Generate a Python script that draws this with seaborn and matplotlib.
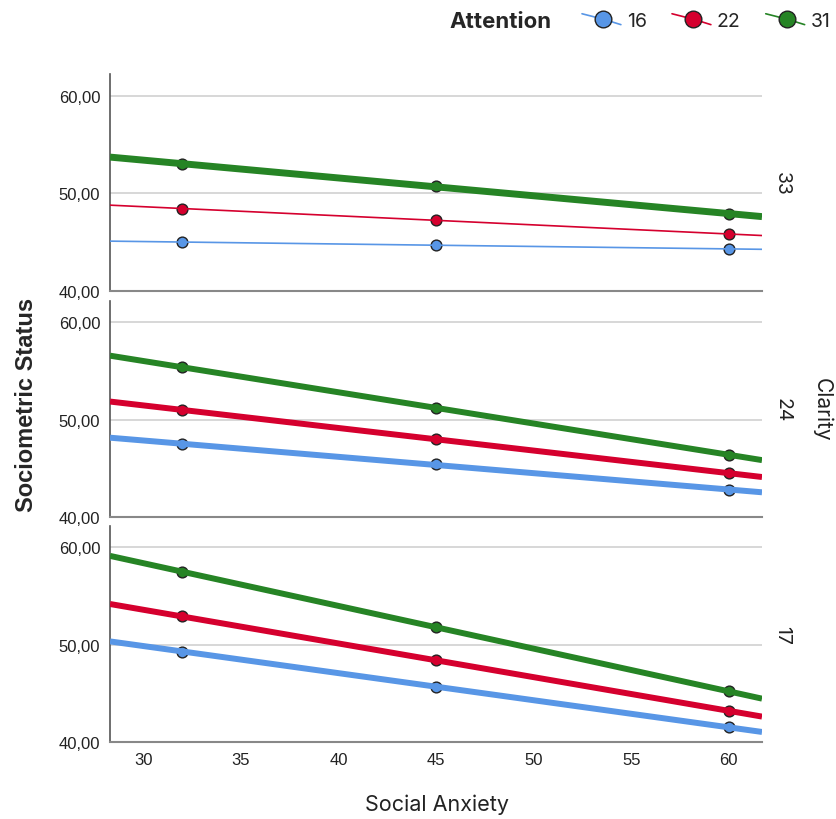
import matplotlib
matplotlib.use("Agg")
import matplotlib.pyplot as plt
from matplotlib.lines import Line2D
from matplotlib.legend_handler import HandlerLine2D
import seaborn as sns
import pandas as pd

# data
anxiety = [32, 45, 60]
attention_levels = ["16", "22", "31"]
clarity_levels = ["33", "24", "17"]

c33_a16 = [45.0, 44.7, 44.3]
c33_a22 = [48.4, 47.3, 45.8]
c33_a31 = [53.0, 50.7, 47.9]
c24_a16 = [47.5, 45.4, 42.8]
c24_a22 = [51.0, 48.0, 44.5]
c24_a31 = [55.4, 51.2, 46.4]
c17_a16 = [49.3, 45.7, 41.5]
c17_a22 = [52.9, 48.4, 43.2]
c17_a31 = [57.5, 51.8, 45.2]

series = {
    ("33", "16"): c33_a16, ("33", "22"): c33_a22, ("33", "31"): c33_a31,
    ("24", "16"): c24_a16, ("24", "22"): c24_a22, ("24", "31"): c24_a31,
    ("17", "16"): c17_a16, ("17", "22"): c17_a22, ("17", "31"): c17_a31,
}
rows = []
for (cl, at), vals in series.items():
    for x, y in zip(anxiety, vals):
        rows.append({"Clarity": cl, "Attention": at, "Social Anxiety": x,
                     "Sociometric Status": y})
df = pd.DataFrame(rows)

colors = {"16": "#5896e6", "22": "#d5002e", "31": "#268425"}
# line width per panel (the top panel draws two series thinly)
widths = {"33": {"16": 1.2, "22": 1.2, "31": 5.0},
          "24": {"16": 4.3, "22": 4.3, "31": 4.3},
          "17": {"16": 4.3, "22": 4.3, "31": 4.3}}

sns.set_style("white")
plt.rcParams["font.family"] = ["Liberation Sans", "DejaVu Sans"]
label_font = ["Inter", "DejaVu Sans"]

fig = plt.figure(figsize=(8.36, 8.2), dpi=100)
left, width = 110 / 836, 652 / 836
panel_px = [(75, 292), (302, 518), (527, 743)]
xlim = (28.3, 61.7)
ylim = (40, 62.2)

axes = []
for (top, bot), cl in zip(panel_px, clarity_levels):
    ax = fig.add_axes([left, 1 - bot / 820, width, (bot - top) / 820])
    ax.set_xlim(*xlim)
    ax.set_ylim(*ylim)
    ax.yaxis.grid(True, color="#d4d4d4", lw=1.3)
    ax.set_axisbelow(True)
    sub = df[df["Clarity"] == cl]
    for at in attention_levels:
        d = sub[sub["Attention"] == at]
        sns.regplot(data=d, x="Social Anxiety", y="Sociometric Status", ax=ax,
                    ci=None, truncate=False, color=colors[at],
                    scatter_kws={"s": 60, "edgecolors": "#222222",
                                 "linewidths": 1.0, "alpha": 1, "zorder": 3},
                    line_kws={"lw": widths[cl][at], "zorder": 4,
                              "solid_capstyle": "butt"})
    ax.set_xlim(*xlim)
    ax.set_ylim(*ylim)
    ax.set_yticks([40, 50, 60])
    ax.set_yticklabels(["40,00", "50,00", "60,00"])
    ax.set_xlabel("")
    ax.set_ylabel("")
    for s in ["top", "right"]:
        ax.spines[s].set_visible(False)
    ax.spines["left"].set_color("#555555")
    ax.spines["bottom"].set_color("#888888")
    ax.spines["left"].set_linewidth(1.2)
    ax.spines["bottom"].set_linewidth(1.5)
    ax.tick_params(axis="both", length=0, labelsize=12, colors="#222222", pad=7)
    ax.text(1.031, 0.5, cl, transform=ax.transAxes, rotation=270,
            ha="center", va="center", fontsize=14, color="#222222",
            family=label_font)
    axes.append(ax)

for ax in axes[:-1]:
    ax.set_xticks([])
axes[-1].set_xticks([30, 35, 40, 45, 50, 55, 60])

fig.text(27 / 836, 1 - 405 / 820, "Sociometric Status", rotation=90,
         ha="center", va="center", fontsize=17, fontweight="bold")
fig.text(437 / 836, 1 - 805 / 820, "Social Anxiety", ha="center",
         va="center", fontsize=15.5, color="#222222", family=label_font)
fig.text(822 / 836, 1 - 410 / 820, "Clarity", rotation=270, ha="center",
         va="center", fontsize=15, color="#222222", family=label_font)
fig.text(501 / 836, 1 - 22 / 820, "Attention", ha="center", va="center",
         fontsize=16, fontweight="bold", family=label_font)


class SlantHandler(HandlerLine2D):
    def create_artists(self, legend, orig_handle, xdescent, ydescent, width,
                       height, fontsize, trans):
        arts = super().create_artists(legend, orig_handle, xdescent, ydescent,
                                      width, height, fontsize, trans)
        line = arts[0]
        y0 = height / 2 - ydescent
        line.set_data([-xdescent, width * 0.55 - xdescent, width - xdescent],
                      [y0 + height * 0.4, y0, y0 - height * 0.4])
        line.set_markevery([1])
        return arts


handles = [Line2D([0], [0], color=colors[a], lw=1.2, marker="o",
                  markersize=12, markerfacecolor=colors[a],
                  markeredgecolor="#222222", markeredgewidth=1.0)
           for a in attention_levels]
fig.legend(handles, attention_levels, loc="center left",
           bbox_to_anchor=(582 / 836, 1 - 22 / 820), ncol=3, frameon=False,
           prop={"family": label_font, "size": 14}, handlelength=2.0,
           handletextpad=0.3, columnspacing=1.3, borderaxespad=0, borderpad=0,
           handler_map={Line2D: SlantHandler(numpoints=1)})

fig.savefig("out.png", dpi=100)
